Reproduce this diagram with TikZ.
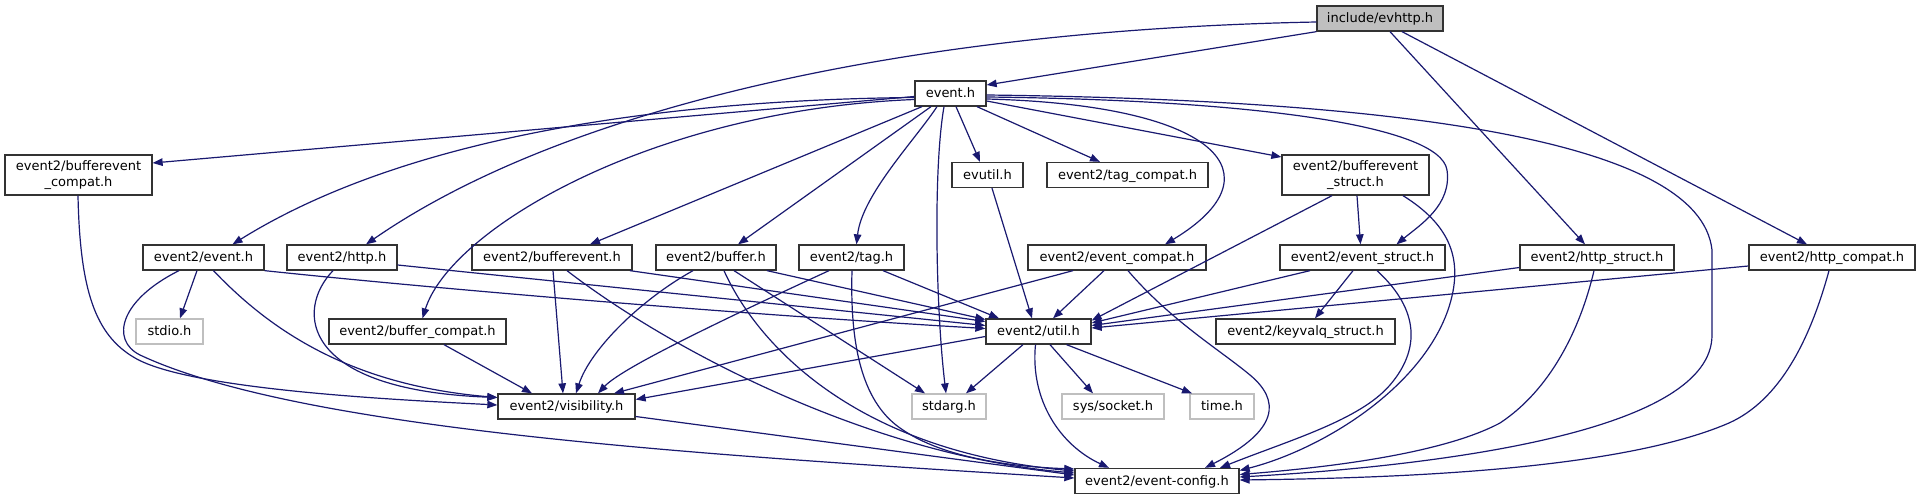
\documentclass[tikz,border=0pt]{standalone}
\usepackage{fontspec}
\newfontfamily\dejavu{DejaVu Sans}
\usetikzlibrary{arrows.meta}
\definecolor{edgeblue}{HTML}{191970}
\definecolor{ndborder}{HTML}{333333}
\definecolor{extborder}{HTML}{BFBFBF}
\definecolor{rootfill}{HTML}{BFBFBF}
\tikzset{
  nd/.style={draw=ndborder, line width=1.3pt, fill=white, inner sep=0pt, minimum height=25pt,
             text height=10.4pt, text depth=2pt, font=\dejavu\fontsize{13pt}{15.3pt}\selectfont},
  extnd/.style={nd, draw=extborder},
  rootnd/.style={nd, fill=rootfill},
  twond/.style={draw=ndborder, line width=1.3pt, fill=white, inner sep=0pt, minimum height=40pt,
             align=center, font=\dejavu\fontsize{13pt}{15.3pt}\selectfont},
  conn/.style={draw=edgeblue, line width=1.2pt, -{Triangle[length=10pt,width=7.5pt]}},
}
\begin{document}
\begin{tikzpicture}[x=1pt,y=-1pt]
\fill[white] (0,0) rectangle (1920,500);
\useasboundingbox (0,0) rectangle (1920,500);
% nodes
\node[rootnd, minimum width=126pt] (evhttp) at (1380,18.5) {include/evhttp.h};
\node[nd, minimum width=71pt] (event) at (950.5,93.5) {event.h};
\node[twond, minimum width=147pt] (bec) at (78.5,175) {event2/bufferevent\\\_compat.h};
\node[nd, minimum width=71pt] (evutil) at (987.5,175) {evutil.h};
\node[nd, minimum width=161pt] (tagcompat) at (1127.5,175) {event2/tag\_compat.h};
\node[twond, minimum width=147pt] (bes) at (1355.5,175) {event2/bufferevent\\\_struct.h};
\node[nd, minimum width=121pt] (ev2event) at (203.5,257.5) {event2/event.h};
\node[nd, minimum width=110pt] (http) at (342,257.5) {event2/http.h};
\node[nd, minimum width=160pt] (bev) at (552,257.5) {event2/bufferevent.h};
\node[nd, minimum width=120pt] (buffer) at (716,257.5) {event2/buffer.h};
\node[nd, minimum width=105pt] (tag) at (851.5,257.5) {event2/tag.h};
\node[nd, minimum width=178pt] (evcompat) at (1117,257.5) {event2/event\_compat.h};
\node[nd, minimum width=165pt] (evstruct) at (1362.5,257.5) {event2/event\_struct.h};
\node[nd, minimum width=154pt] (httpstruct) at (1597,257.5) {event2/http\_struct.h};
\node[nd, minimum width=166pt] (httpcompat) at (1832,257.5) {event2/http\_compat.h};
\node[extnd, minimum width=67pt] (stdio) at (169.5,331.5) {stdio.h};
\node[nd, minimum width=177pt] (bufcompat) at (417.5,331.5) {event2/buffer\_compat.h};
\node[nd, minimum width=105pt] (util) at (1038.5,331.5) {event2/util.h};
\node[nd, minimum width=179pt] (keyvalq) at (1305.5,331.5) {event2/keyvalq\_struct.h};
\node[nd, minimum width=137pt] (vis) at (566.5,406.5) {event2/visibility.h};
\node[extnd, minimum width=74pt] (stdarg) at (949,406.5) {stdarg.h};
\node[extnd, minimum width=102pt] (socket) at (1113,406.5) {sys/socket.h};
\node[extnd, minimum width=64pt] (time) at (1222,406.5) {time.h};
\node[nd, minimum width=164pt] (config) at (1157,481) {event2/event-config.h};
% edges from include/evhttp.h
\draw[conn] (evhttp.south west) -- ([yshift=8.5pt]event.east);
\draw[conn] ([yshift=-3.5pt]evhttp.west) .. controls (900,30) and (560,110) .. ([xshift=24pt]http.north);
\draw[conn] ([xshift=10pt]evhttp.south) -- ([xshift=-12pt]httpstruct.north);
\draw[conn] ([xshift=22pt]evhttp.south) -- ([xshift=-25pt]httpcompat.north);
% edges from event.h
\draw[conn] ([yshift=-3pt]event.west) -- ([yshift=12pt]bec.east);
\draw[conn] ([yshift=-4pt]event.west) .. controls (650,100) and (400,140) .. ([xshift=29pt]ev2event.north);
\draw[conn] ([yshift=-6pt]event.west) .. controls (650,110) and (450,230) .. ([xshift=5pt]bufcompat.north);
\draw[conn] ([xshift=-28.5pt]event.south) -- ([xshift=38pt]bev.north);
\draw[conn] ([xshift=-19.5pt]event.south) -- ([xshift=22pt]buffer.north);
\draw[conn] ([xshift=-13.5pt]event.south) .. controls (915,140) and (862,195) .. ([xshift=5pt]tag.north);
\draw[conn] ([xshift=-6.5pt]event.south) .. controls (933,170) and (936,310) .. ([xshift=-3pt]stdarg.north);
\draw[conn] ([xshift=5.5pt]event.south) -- ([xshift=-7.5pt]evutil.north);
\draw[conn] ([xshift=26.5pt]event.south) -- ([xshift=-27.5pt]tagcompat.north);
\draw[conn] ([yshift=-7.5pt]event.east) -- ([yshift=18pt]bes.west);
\draw[conn] ([yshift=-5.5pt]event.east) .. controls (1220,105) and (1280,175) .. ([xshift=48pt]evcompat.north);
\draw[conn] ([yshift=-3.5pt]event.east) .. controls (1250,100) and (1440,125) .. (1447,170)
   .. controls (1452,205) and (1420,225) .. ([xshift=34pt]evstruct.north);
\draw[conn] ([yshift=-1.5pt]event.east) .. controls (1400,100) and (1700,140) .. (1712,250)
   -- (1712,335) .. controls (1712,430) and (1450,465) .. ([yshift=4pt]config.east);
% bufferevent_compat
\draw[conn] ([xshift=-0.5pt]bec.south) .. controls (80,290) and (95,335) .. (135,358)
   .. controls (190,390) and (400,400) .. ([yshift=1.5pt]vis.west);
% event2/event.h
\draw[conn] ([xshift=-6.5pt]ev2event.south) -- ([xshift=10.5pt]stdio.north);
\draw[conn] (ev2event.south east) .. controls (400,285) and (700,312) .. ([yshift=3pt]util.west);
\draw[conn] ([xshift=10pt]ev2event.south) .. controls (270,330) and (350,385) .. ([yshift=9pt]vis.west);
\draw[conn] ([xshift=-24.5pt]ev2event.south) .. controls (120,300) and (110,340) .. (140,355)
   .. controls (300,430) and (700,455) .. ([yshift=3pt]config.west);
% event2/http.h
\draw[conn] ([yshift=-7.5pt]http.east) -- ([yshift=6pt]util.west);
\draw[conn] ([xshift=-9pt]http.south) .. controls (295,310) and (300,390) .. ([yshift=9pt]vis.west);
% event2/bufferevent.h
\draw[conn] ([xshift=78pt]bev.south) -- ([yshift=10pt]util.west);
\draw[conn] ([xshift=1pt]bev.south) -- ([xshift=-3.5pt]vis.north);
\draw[conn] ([xshift=15pt]bev.south) .. controls (670,350) and (870,455) .. ([yshift=8pt]config.west);
% event2/buffer.h
\draw[conn] ([xshift=51pt]buffer.south) -- ([yshift=12pt]util.west);
\draw[conn] ([xshift=-23pt]buffer.south) .. controls (640,300) and (590,350) .. ([xshift=9.5pt]vis.north);
\draw[conn] ([xshift=18pt]buffer.south) -- ([xshift=-24pt]stdarg.north);
\draw[conn] ([xshift=8pt]buffer.south) .. controls (755,340) and (850,450) .. ([yshift=10pt]config.west);
% event2/tag.h
\draw[conn] ([xshift=31.5pt]tag.south) -- ([xshift=-39.5pt]util.north);
\draw[conn] ([xshift=-22.5pt]tag.south) .. controls (700,330) and (620,370) .. ([xshift=31.5pt]vis.north);
\draw[conn] ([xshift=0.5pt]tag.south) .. controls (850,340) and (860,400) .. (900,428)
   .. controls (945,460) and (1020,467) .. ([yshift=12pt]config.west);
% event2/buffer_compat.h
\draw[conn] ([xshift=26.5pt]bufcompat.south) -- ([xshift=-34.5pt]vis.north);
% evutil.h
\draw[conn] ([xshift=4.5pt]evutil.south) -- ([xshift=-6.5pt]util.north);
% event2/event_compat.h
\draw[conn] ([xshift=-13pt]evcompat.south) -- ([xshift=14.5pt]util.north);
\draw[conn] ([xshift=-44pt]evcompat.south) -- ([xshift=47.5pt]vis.north);
\draw[conn] ([xshift=11pt]evcompat.south) .. controls (1170,320) and (1220,350) .. (1250,375)
   .. controls (1280,400) and (1280,430) .. ([xshift=48pt]config.north);
% event2/bufferevent_struct.h
\draw[conn] ([xshift=1.5pt]bes.south) -- ([xshift=-2pt]evstruct.north);
\draw[conn] ([xshift=-23.5pt]bes.south) -- ([yshift=11pt]util.east);
\draw[conn] ([xshift=47.5pt]bes.south) .. controls (1450,225) and (1465,260) .. (1448,310)
   .. controls (1420,390) and (1320,450) .. ([yshift=10.5pt]config.east);
% event2/event_struct.h
\draw[conn] ([xshift=-52.5pt]evstruct.south) -- ([yshift=8.5pt]util.east);
\draw[conn] ([xshift=-9.5pt]evstruct.south) -- ([xshift=9.5pt]keyvalq.north);
\draw[conn] ([xshift=14.5pt]evstruct.south) .. controls (1420,310) and (1420,350) .. (1390,385)
   .. controls (1360,420) and (1290,440) .. ([xshift=63pt]config.north);
% event2/http_struct.h
\draw[conn] ([yshift=-10pt]httpstruct.west) -- ([yshift=6pt]util.east);
\draw[conn] ([xshift=-3pt]httpstruct.south) .. controls (1580,330) and (1550,390) .. (1500,423)
   .. controls (1440,455) and (1320,468) .. ([yshift=6.5pt]config.east);
% event2/http_compat.h
\draw[conn] ([yshift=-8.5pt]httpcompat.west) -- ([yshift=3.5pt]util.east);
\draw[conn] ([xshift=-3pt]httpcompat.south) .. controls (1810,340) and (1780,400) .. (1729,423)
   .. controls (1620,470) and (1400,478) .. ([yshift=1pt]config.east);
% event2/util.h
\draw[conn] ([yshift=-5pt]util.west) -- ([yshift=7pt]vis.east);
\draw[conn] ([xshift=-15.5pt]util.south) -- ([xshift=17pt]stdarg.north);
\draw[conn] ([xshift=11.5pt]util.south) -- ([xshift=-20pt]socket.north);
\draw[conn] ([xshift=28pt]util.south) -- ([xshift=-30pt]time.north);
\draw[conn] ([xshift=-3pt]util.south) .. controls (1030,400) and (1060,445) .. ([xshift=-48pt]config.north);
% event2/visibility.h
\draw[conn] ([yshift=-10pt]vis.east) -- ([yshift=6pt]config.west);
\end{tikzpicture}
\end{document}
